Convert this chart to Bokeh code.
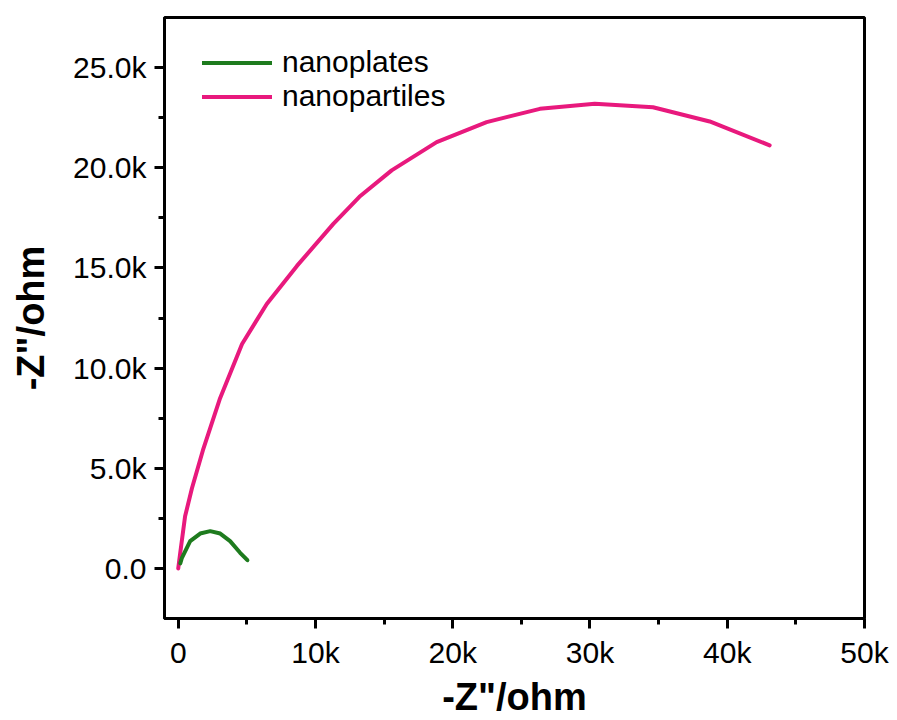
from bokeh.plotting import figure
from bokeh.models import FixedTicker, Legend, LegendItem, Range1d
from bokeh.embed import file_html
from bokeh.resources import INLINE

# Data (kOhm, converted to ohm)
nanopartiles_x = [0, 0.15, 0.5, 1.0, 1.8, 3.05, 4.65, 6.45, 8.65, 11.3, 13.2, 15.55, 18.83, 22.47, 26.35, 30.35, 34.59, 38.72, 43.09]
nanopartiles_y = [0, 0.8, 2.6, 4.0, 5.9, 8.5, 11.2, 13.2, 15.1, 17.2, 18.55, 19.87, 21.28, 22.28, 22.94, 23.19, 23.02, 22.31, 21.12]
nanoplates_x = [0.15, 0.27, 0.87, 1.6, 2.33, 3.06, 3.78, 4.51, 5.04]
nanoplates_y = [0.25, 0.53, 1.36, 1.74, 1.86, 1.74, 1.36, 0.78, 0.41]

x_ticks = [0, 10000, 20000, 30000, 40000, 50000]
x_tick_labels = ["0", "10k", "20k", "30k", "40k", "50k"]
x_minor = [5000, 15000, 25000, 35000, 45000]
y_ticks = [0, 5000, 10000, 15000, 20000, 25000]
y_tick_labels = ["0.0", "5.0k", "10.0k", "15.0k", "20.0k", "25.0k"]
y_minor = [2500, 7500, 12500, 17500, 22500]

PINK = "#E8197D"
GREEN = "#1E7B1E"
FONT = "Liberation Sans"

p = figure(width=897, height=720, output_backend="svg", toolbar_location=None,
           x_range=Range1d(-1000, 50000), y_range=Range1d(-2500, 27500))
p.min_border_left = 164
p.min_border_right = 33
p.min_border_top = 17
p.min_border_bottom = 101
p.background_fill_color = "white"
p.border_fill_color = "white"
p.grid.visible = False
p.outline_line_color = "black"
p.outline_line_width = 3
p.outline_line_alpha = 1

px = [v * 1000 for v in nanopartiles_x]
py = [v * 1000 for v in nanopartiles_y]
gx = [v * 1000 for v in nanoplates_x]
gy = [v * 1000 for v in nanoplates_y]

r_pink = p.line(px, py, line_color=PINK, line_width=4, line_join="round", line_cap="round")
r_green = p.line(gx, gy, line_color=GREEN, line_width=4, line_join="round", line_cap="round")

for ax, ticks, minor, labels in ((p.xaxis[0], x_ticks, x_minor, x_tick_labels),
                                 (p.yaxis[0], y_ticks, y_minor, y_tick_labels)):
    ax.ticker = FixedTicker(ticks=ticks, minor_ticks=minor)
    ax.major_label_overrides = {t: l for t, l in zip(ticks, labels)}
    ax.axis_line_width = 3
    ax.major_tick_line_width = 3
    ax.minor_tick_line_width = 3
    ax.major_tick_in = 0
    ax.major_tick_out = 10
    ax.minor_tick_in = 0
    ax.minor_tick_out = 6
    ax.major_label_text_font = FONT
    ax.major_label_text_font_size = "30px"
    ax.major_label_text_color = "black"
    ax.axis_label = '-Z"/ohm'
    ax.axis_label_text_font = FONT
    ax.axis_label_text_font_style = "bold"
    ax.axis_label_text_font_size = "38px"
    ax.axis_label_text_color = "black"

p.xaxis.major_label_standoff = 7
p.xaxis.axis_label_standoff = 4
p.yaxis.major_label_standoff = 8
p.yaxis.axis_label_standoff = 18

legend = Legend(items=[LegendItem(label="nanoplates", renderers=[r_green]),
                       LegendItem(label="nanopartiles", renderers=[r_pink])],
                location=(38, 505), margin=0, padding=0, spacing=0,
                glyph_width=70, glyph_height=31, label_height=31, label_standoff=10,
                label_text_font=FONT, label_text_font_size="30px", label_text_color="black",
                border_line_alpha=0, background_fill_alpha=0)
p.add_layout(legend)

open("out.html", "w").write(file_html(p, INLINE))
